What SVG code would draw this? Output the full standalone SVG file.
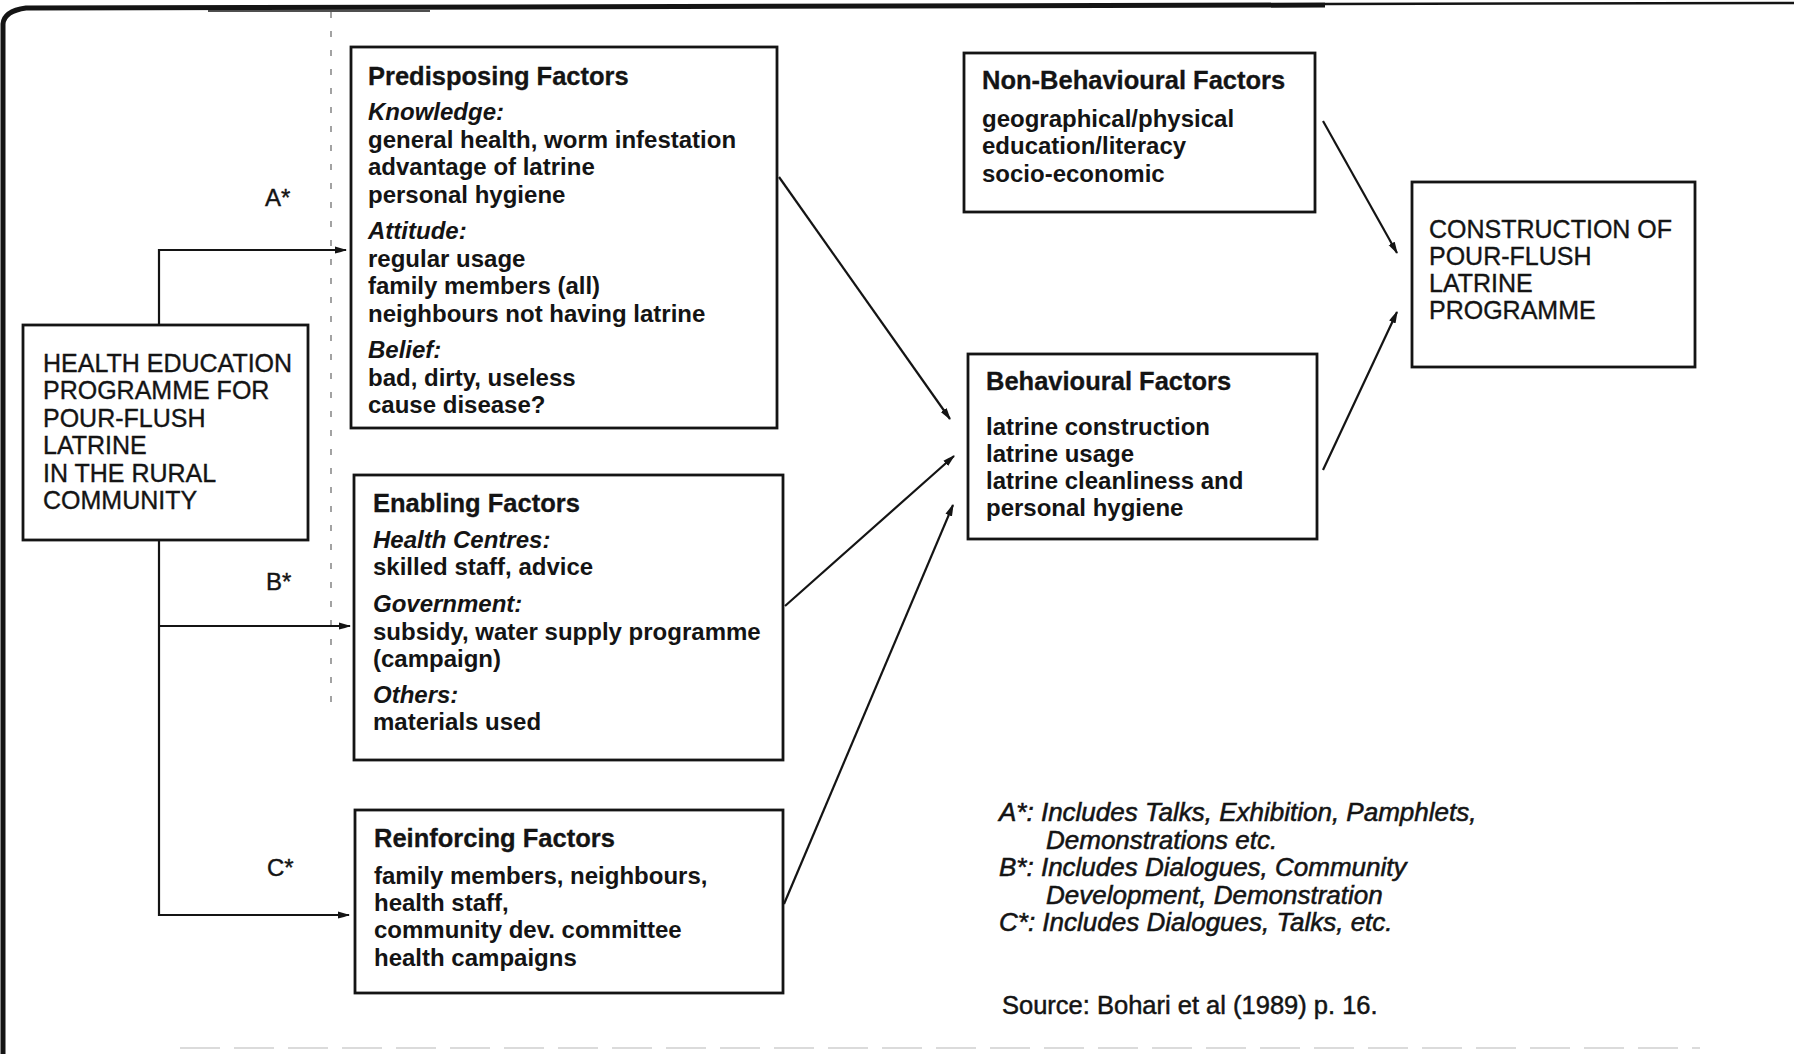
<svg xmlns="http://www.w3.org/2000/svg" width="1794" height="1054" viewBox="0 0 1794 1054">
  <style>
    .box { fill: none; stroke: #141414; stroke-width: 2.8; }
    .wire { fill: none; stroke: #141414; stroke-width: 2.2; }
    text { fill: #141414; font-family: "Liberation Sans", Arial, sans-serif; }
    .head { font-size: 25.5px; font-weight: bold; stroke: #141414; stroke-width: 0.3; }
    .body { font-size: 24px; font-weight: bold; }
    .sub { font-size: 24px; font-weight: bold; font-style: italic; }
    .plain { font-size: 25px; stroke: #141414; stroke-width: 0.35; }
    .tag { font-size: 24px; stroke: #141414; stroke-width: 0.4; }
    .note { font-size: 26px; font-style: italic; stroke: #141414; stroke-width: 0.55; }
    .src { font-size: 25.5px; stroke: #141414; stroke-width: 0.5; }
  </style>
  <defs>
    <marker id="tip" viewBox="0 0 12 9" refX="11" refY="4.5" markerWidth="12" markerHeight="9" markerUnits="userSpaceOnUse" orient="auto">
      <path d="M0,1 Q6,2.5 12,4.5 Q6,6.5 0,8 z" fill="#141414"/>
    </marker>
  </defs>

  <rect width="1794" height="1054" fill="#ffffff"/>

  <!-- page frame -->
  <g id="frame">
    <path d="M3,1054 L3,24 Q4,11 26,8 L1325,5" fill="none" stroke="#141414" stroke-width="5"/>
    <path d="M1325,4 L1794,3" fill="none" stroke="#141414" stroke-width="2.5"/>
    <path d="M208,11 L430,11" fill="none" stroke="#141414" stroke-width="1.5"/>
    <path d="M331,12 L331,705" fill="none" stroke="#666" stroke-width="1.2" stroke-dasharray="6 13"/>
    <path d="M180,1048 L1700,1048" fill="none" stroke="#cfcfcf" stroke-width="1.5" stroke-dasharray="40 14"/>
  </g>

  <!-- connectors -->
  <g id="connectors">
    <path class="wire" d="M159,325 L159,250 L346,250" marker-end="url(#tip)"/>
    <path class="wire" d="M159,540 L159,915 L349,915" marker-end="url(#tip)"/>
    <path class="wire" d="M159,626 L350,626" marker-end="url(#tip)"/>
    <path class="wire" d="M779,177 L950,419" marker-end="url(#tip)"/>
    <path class="wire" d="M785,606 L954,456" marker-end="url(#tip)"/>
    <path class="wire" d="M784,904 L953,505" marker-end="url(#tip)"/>
    <path class="wire" d="M1323,121 L1397,253" marker-end="url(#tip)"/>
    <path class="wire" d="M1323,470 L1397,312" marker-end="url(#tip)"/>
    <text class="tag" x="265" y="206">A*</text>
    <text class="tag" x="266" y="590">B*</text>
    <text class="tag" x="267" y="876">C*</text>
  </g>

  <g id="health-education">
    <rect class="box" x="23" y="325" width="285" height="215"/>
    <text class="plain" x="43" y="372">HEALTH EDUCATION</text>
    <text class="plain" x="43" y="399">PROGRAMME FOR</text>
    <text class="plain" x="43" y="427">POUR-FLUSH</text>
    <text class="plain" x="43" y="454">LATRINE</text>
    <text class="plain" x="43" y="482">IN THE RURAL</text>
    <text class="plain" x="43" y="509">COMMUNITY</text>
  </g>

  <g id="predisposing">
    <rect class="box" x="351" y="47" width="426" height="381"/>
    <text class="head" x="368" y="85">Predisposing Factors</text>
    <text class="sub" x="368" y="120">Knowledge:</text>
    <text class="body" x="368" y="148">general health, worm infestation</text>
    <text class="body" x="368" y="175">advantage of latrine</text>
    <text class="body" x="368" y="203">personal hygiene</text>
    <text class="sub" x="368" y="239">Attitude:</text>
    <text class="body" x="368" y="267">regular usage</text>
    <text class="body" x="368" y="294">family members (all)</text>
    <text class="body" x="368" y="322">neighbours not having latrine</text>
    <text class="sub" x="368" y="358">Belief:</text>
    <text class="body" x="368" y="386">bad, dirty, useless</text>
    <text class="body" x="368" y="413">cause disease?</text>
  </g>

  <g id="enabling">
    <rect class="box" x="354" y="475" width="429" height="285"/>
    <text class="head" x="373" y="512">Enabling Factors</text>
    <text class="sub" x="373" y="548">Health Centres:</text>
    <text class="body" x="373" y="575">skilled staff, advice</text>
    <text class="sub" x="373" y="612">Government:</text>
    <text class="body" x="373" y="640">subsidy, water supply programme</text>
    <text class="body" x="373" y="667">(campaign)</text>
    <text class="sub" x="373" y="703">Others:</text>
    <text class="body" x="373" y="730">materials used</text>
  </g>

  <g id="reinforcing">
    <rect class="box" x="355" y="810" width="428" height="183"/>
    <text class="head" x="374" y="847">Reinforcing Factors</text>
    <text class="body" x="374" y="884">family members, neighbours,</text>
    <text class="body" x="374" y="911">health staff,</text>
    <text class="body" x="374" y="938">community dev. committee</text>
    <text class="body" x="374" y="966">health campaigns</text>
  </g>

  <g id="non-behavioural">
    <rect class="box" x="964" y="53" width="351" height="159"/>
    <text class="head" x="982" y="89">Non-Behavioural Factors</text>
    <text class="body" x="982" y="127">geographical/physical</text>
    <text class="body" x="982" y="154">education/literacy</text>
    <text class="body" x="982" y="182">socio-economic</text>
  </g>

  <g id="behavioural">
    <rect class="box" x="968" y="354" width="349" height="185"/>
    <text class="head" x="986" y="390">Behavioural Factors</text>
    <text class="body" x="986" y="435">latrine construction</text>
    <text class="body" x="986" y="462">latrine usage</text>
    <text class="body" x="986" y="489">latrine cleanliness and</text>
    <text class="body" x="986" y="516">personal hygiene</text>
  </g>

  <g id="construction">
    <rect class="box" x="1412" y="182" width="283" height="185"/>
    <text class="plain" x="1429" y="238">CONSTRUCTION OF</text>
    <text class="plain" x="1429" y="265">POUR-FLUSH</text>
    <text class="plain" x="1429" y="292">LATRINE</text>
    <text class="plain" x="1429" y="319">PROGRAMME</text>
  </g>

  <g id="legend">
    <text class="note" x="999" y="821">A*: Includes Talks, Exhibition, Pamphlets,</text>
    <text class="note" x="1046" y="849">Demonstrations etc.</text>
    <text class="note" x="999" y="876">B*: Includes Dialogues, Community</text>
    <text class="note" x="1046" y="904">Development, Demonstration</text>
    <text class="note" x="999" y="931">C*: Includes Dialogues, Talks, etc.</text>
    <text class="src" x="1002" y="1014">Source: Bohari et al (1989) p. 16.</text>
  </g>
</svg>
